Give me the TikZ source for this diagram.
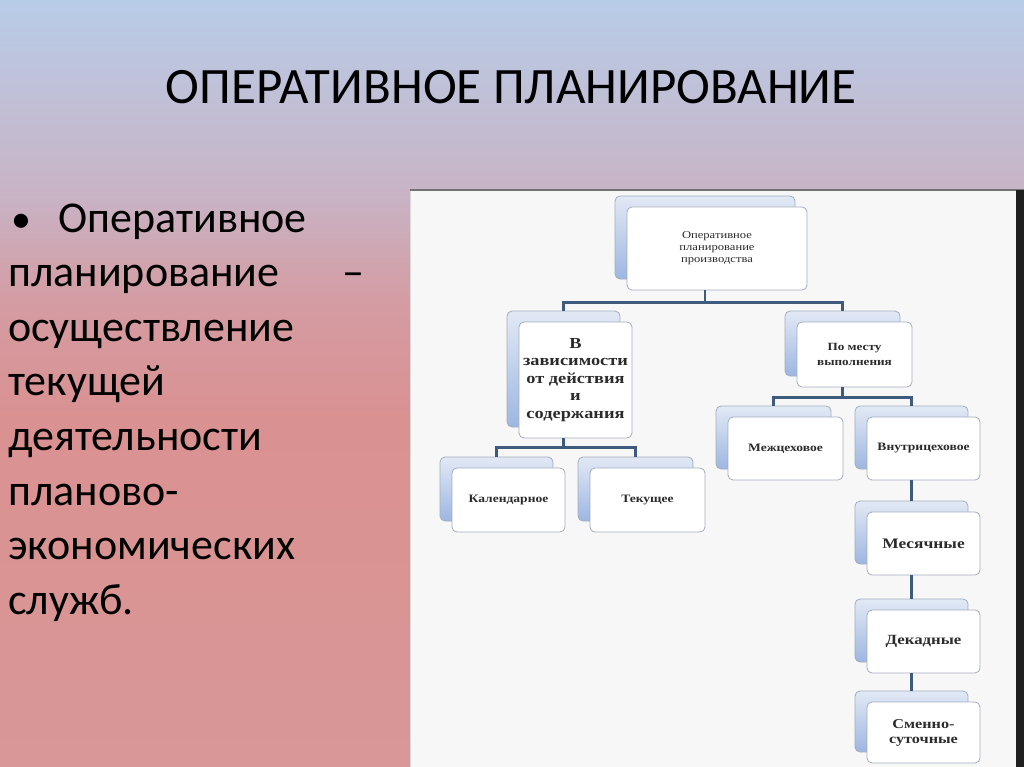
\documentclass[tikz,border=0pt]{standalone}
\usepackage{fontspec}
\setmainfont{Carlito}
\newfontfamily\chartfont[FakeStretch=1.2]{Liberation Serif}
\usepackage{tikz}
\usetikzlibrary{shadows}
\usepackage{xcolor}
\definecolor{bgtop}{HTML}{B8CCE8}
\definecolor{bgup}{HTML}{C8B4C6}
\definecolor{bgmid}{HTML}{D49CA3}
\definecolor{bglow}{HTML}{DA9191}
\definecolor{bgbottom}{HTML}{D99797}
\definecolor{panel}{HTML}{F7F7F7}
\definecolor{linkblue}{HTML}{3E5A7C}
\definecolor{boxline}{HTML}{A3AEBD}
\definecolor{shadetop}{HTML}{E2E9F5}
\definecolor{shadebottom}{HTML}{9DB6E2}
\definecolor{darkgray}{HTML}{2B2B2B}
\pgfdeclareverticalshading{slidebg}{100bp}{color(0bp)=(bgbottom); color(25bp)=(bgbottom);
  color(47.6bp)=(bglow); color(55.4bp)=(bgmid); color(62.6bp)=(bgup); color(75bp)=(bgtop); color(100bp)=(bgtop)}

\begin{document}
\begin{tikzpicture}[x=1pt,y=-1pt,
  card/.style={draw=boxline,fill=white,rounded corners=5pt,line width=0.8pt,
    text=darkgray,align=center,inner sep=1pt,
    copy shadow={shadow xshift=-12pt,shadow yshift=11pt,draw=boxline,
      top color=shadetop,bottom color=shadebottom}},
  cardsize/.style 2 args={minimum width=#1pt,minimum height=#2pt},
  link/.style={draw=linkblue,line width=2.4pt}]
  \useasboundingbox (0,0) rectangle (1024,767);
  \shade[shading=slidebg] (0,0) rectangle (1024,767);
  \node[font=\fontsize{51}{60}\selectfont,anchor=base] (title) at (511,104) {ОПЕРАТИВНОЕ ПЛАНИРОВАНИЕ};
  \node[font=\fontsize{44}{54.6}\selectfont,anchor=base west,align=left,inner sep=0] (body) at (8,614.2)
    {\makebox[50pt][l]{\hspace{3pt}\fontsize{40}{40}\selectfont•}Оперативное\\
     \hbox to 356pt{планирование\hfill –}\\
     осуществление\\текущей\\деятельности\\планово-\\экономических\\служб.};
  \fill[panel] (410,190) rectangle (1016,767);
  \draw[black!15] (410,190) -- (410,767);
  \draw[black!55,line width=1.5pt] (410,190) -- (1024,190);
  \fill[black!88] (1016,190) rectangle (1024,767);
  \node[card,cardsize={180}{83},font=\chartfont\fontsize{10.5}{12}\selectfont] (root) at (717,248.5)
    {Оперативное\\планирование\\производства};
  \node[card,cardsize={113}{116},font=\chartfont\bfseries\fontsize{15.3}{17.5}\selectfont] (dep) at (575.5,380)
    {В\\зависимости\\от действия\\и\\содержания};
  \node[card,cardsize={115}{65},font=\chartfont\bfseries\fontsize{11}{15}\selectfont] (place) at (854.5,354.5)
    {По месту\\выполнения};
  \node[card,cardsize={113}{64},font=\chartfont\bfseries\fontsize{11.3}{14}\selectfont] (calendar) at (508.5,500) {Календарное};
  \node[card,cardsize={115}{64},font=\chartfont\bfseries\fontsize{11.3}{14}\selectfont] (current) at (647.5,500) {Текущее};
  \node[card,cardsize={115}{63},font=\chartfont\bfseries\fontsize{11.3}{14}\selectfont] (intershop) at (785.5,448.5) {Межцеховое};
  \node[card,cardsize={113}{63},font=\chartfont\bfseries\fontsize{11.3}{14}\selectfont] (intrashop) at (923.5,448.5) {Внутрицеховое};
  \node[card,cardsize={113}{63},font=\chartfont\bfseries\fontsize{14.5}{16}\selectfont] (monthly) at (923.5,543.5) {Месячные};
  \node[card,cardsize={113}{63},font=\chartfont\bfseries\fontsize{14}{16}\selectfont] (decade) at (923.5,641.5) {Декадные};
  \node[card,cardsize={113}{61},font=\chartfont\bfseries\fontsize{13.5}{15}\selectfont] (shiftly) at (923.5,732.5)
    {Сменно-\\суточные};
  \draw[link] ([xshift=-12pt]root.south) -- ++(0,12) -| ([xshift=-12pt,yshift=11pt]dep.north);
  \draw[link] ([xshift=-12pt]root.south) -- ++(0,12) -| ([xshift=-12pt,yshift=11pt]place.north);
  \draw[link] ([xshift=-12pt]dep.south) -- ++(0,9) -| ([xshift=-12pt,yshift=11pt]calendar.north);
  \draw[link] ([xshift=-12pt]dep.south) -- ++(0,9) -| ([xshift=-12pt,yshift=11pt]current.north);
  \draw[link] ([xshift=-12pt]place.south) -- ++(0,10) -| ([xshift=-12pt,yshift=11pt]intershop.north);
  \draw[link] ([xshift=-12pt]place.south) -- ++(0,10) -| ([xshift=-12pt,yshift=11pt]intrashop.north);
  \draw[link] ([xshift=-12pt]intrashop.south) -- ([xshift=-12pt,yshift=11pt]monthly.north);
  \draw[link] ([xshift=-12pt]monthly.south) -- ([xshift=-12pt,yshift=11pt]decade.north);
  \draw[link] ([xshift=-12pt]decade.south) -- ([xshift=-12pt,yshift=11pt]shiftly.north);
\end{tikzpicture}
\end{document}
